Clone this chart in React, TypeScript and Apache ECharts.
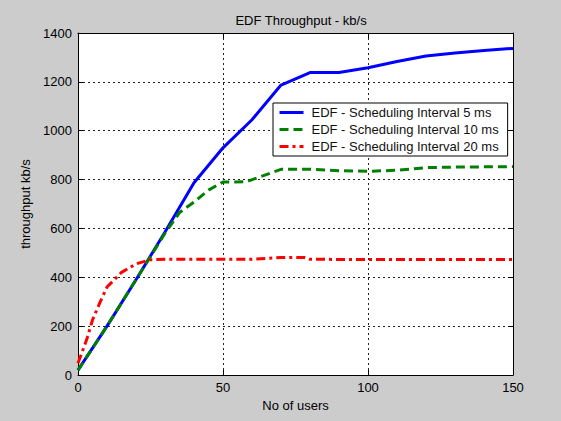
import React, { useEffect, useRef } from "react";
import * as echarts from "echarts";

const chartTitle = "EDF Throughput - kb/s";
const xAxisName = "No of users";
const yAxisName = "throughput kb/s";
const seriesNames = [
  "EDF - Scheduling Interval 5 ms",
  "EDF - Scheduling Interval 10 ms",
  "EDF - Scheduling Interval 20 ms",
];

const users5 = [0, 10, 20, 30, 40, 50, 60, 70, 80, 90, 100, 110, 120, 130, 140, 150];
const throughput5 = [20, 200, 390, 585, 787, 930, 1045, 1187, 1238, 1238, 1258, 1283, 1306, 1318, 1328, 1337];

const users10 = [0, 10, 20, 30, 35, 40, 45, 50, 58, 70, 80, 90, 100, 110, 120, 130, 140, 150];
const throughput10 = [20, 200, 390, 580, 665, 708, 757, 790, 791, 842, 842, 836, 834, 838, 849, 851, 852, 853];

const users20 = [0, 3, 5, 7.5, 10, 15, 20, 25, 30, 40, 50, 60, 70, 78, 80, 90, 100, 110, 120, 130, 140, 150];
const throughput20 = [48, 145, 225, 295, 360, 420, 455, 472, 474, 474, 474, 474, 481, 481, 474, 473, 473, 473, 473, 473, 473, 473];

const zip = (xs: number[], ys: number[]) => xs.map((x, i) => [x, ys[i]]);

export default function App() {
  const ref = useRef<HTMLDivElement>(null);
  useEffect(() => {
    if (!ref.current) return;
    const chart = echarts.init(ref.current, null, { renderer: "svg" });
    const font = "Liberation Sans, Arial, sans-serif";
    const fs = 13;
    const plain = (v: number) => String(v);
    const axisCommon = {
      type: "value" as const,
      axisLine: { show: true, onZero: false, lineStyle: { color: "#000", width: 1 } },
      axisTick: { show: true, inside: true, length: 5, lineStyle: { color: "#000" } },
    };
    chart.setOption({
      animation: false,
      backgroundColor: "#cccccc",
      textStyle: { fontFamily: font },
      title: {
        text: chartTitle,
        left: 296,
        textAlign: "center",
        top: 9,
        textStyle: { fontSize: fs, fontWeight: "normal", color: "#000", fontFamily: font },
      },
      grid: { left: 78, right: 48, top: 33, bottom: 46, show: true, backgroundColor: "#fff", borderWidth: 0 },
      legend: {
        data: seriesNames,
        orient: "vertical",
        left: 273,
        top: 103,
        backgroundColor: "#fff",
        borderColor: "#000",
        borderWidth: 1,
        borderRadius: 0,
        padding: [3, 9, 3, 5],
        itemWidth: 24,
        itemHeight: 12,
        itemGap: 4,
        itemStyle: { opacity: 0 },
        lineStyle: { width: 3 },
        textStyle: { fontSize: fs, color: "#111", fontFamily: font, padding: [0, 0, 0, 3] },
      },
      xAxis: [
        {
          ...axisCommon,
          position: "bottom",
          min: 0,
          max: 150,
          interval: 50,
          name: xAxisName,
          nameLocation: "middle",
          nameGap: 21,
          nameTextStyle: { fontSize: fs, color: "#000", fontFamily: font },
          axisLabel: { fontSize: fs, color: "#000", margin: 6, fontFamily: font, formatter: plain },
          splitLine: { show: true, lineStyle: { color: "#222", type: [2, 3], width: 1 } },
        },
        {
          ...axisCommon,
          position: "top",
          min: 0,
          max: 150,
          interval: 50,
          axisLabel: { show: false },
          splitLine: { show: false },
        },
      ],
      yAxis: [
        {
          ...axisCommon,
          position: "left",
          min: 0,
          max: 1400,
          interval: 200,
          name: yAxisName,
          nameLocation: "middle",
          nameGap: 35,
          nameRotate: 90,
          nameTextStyle: { fontSize: fs, color: "#000", fontFamily: font },
          axisLabel: { fontSize: fs, color: "#000", margin: 6, fontFamily: font, formatter: plain },
          splitLine: { show: true, lineStyle: { color: "#222", type: [2, 3], width: 1 } },
        },
        {
          ...axisCommon,
          position: "right",
          min: 0,
          max: 1400,
          interval: 200,
          axisLabel: { show: false },
          splitLine: { show: false },
        },
      ],
      series: [
        {
          name: seriesNames[0],
          type: "line",
          data: zip(users5, throughput5),
          symbol: "none",
          color: "#0000ff",
          lineStyle: { color: "#0000ff", width: 3, type: "solid" },
          z: 3,
        },
        {
          name: seriesNames[1],
          type: "line",
          data: zip(users10, throughput10),
          symbol: "none",
          color: "#008000",
          lineStyle: { color: "#008000", width: 3, type: [9, 5] },
          z: 4,
        },
        {
          name: seriesNames[2],
          type: "line",
          data: zip(users20, throughput20),
          symbol: "none",
          color: "#ff0000",
          lineStyle: { color: "#ff0000", width: 3, type: [9, 4, 3, 4] },
          z: 5,
        },
      ],
    });
    return () => chart.dispose();
  }, []);
  return (
    <div
      ref={ref}
      style={{ position: "absolute", left: 0, top: 0, width: 561, height: 421 }}
    />
  );
}
